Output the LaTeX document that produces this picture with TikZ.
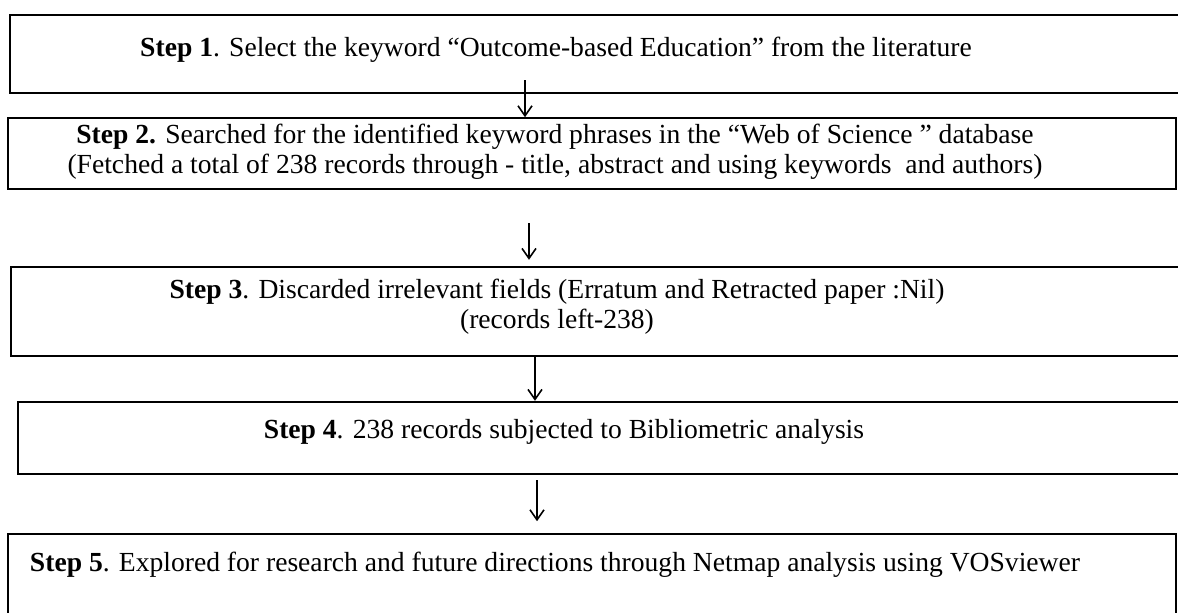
\documentclass[tikz,border=0pt]{standalone}
\usepackage{fontspec}
\setmainfont{Liberation Serif}
\usepackage{tikz}
\usetikzlibrary{arrows.meta,fit}

\tikzset{
  stepbox/.style={draw, line width=1.2pt, inner sep=0pt},
  thinbox/.style={stepbox, line width=0.8pt},
  steptext/.style={align=center, inner sep=0pt, font=\fontsize{13.8}{14.8}\selectfont},
}

\begin{document}
\begin{tikzpicture}[x=0.5pt, y=-0.5pt, >={Straight Barb[length=5pt,width=7pt]}]
\useasboundingbox (0,0) rectangle (1178,612);
\clip (0,0) rectangle (1178,612);

% Boxes
\node[stepbox, fit={(10,15) (1195,93)}] (box1) {};
\node[thinbox, fit={(8,118) (1176,189)}] (box2) {};
\node[stepbox, fit={(11,267) (1195,356)}] (box3) {};
\node[stepbox, fit={(18,402) (1195,474)}] (box4) {};
\node[thinbox, fit={(8,534) (1176,640)}] (box5) {};

% Texts
\node[steptext] (step1) at (556,50) {\textbf{Step 1}. Select the keyword “Outcome-based Education” from the literature};
\node[steptext] (step2) at (555,152) {\textbf{Step 2.} Searched for the identified keyword phrases in the “Web of Science ” database\\
  (Fetched a total of 238 records through - title, abstract and using keywords\ \ and authors)};
\node[steptext] (step3) at (557,307) {\textbf{Step 3}. Discarded irrelevant fields (Erratum and Retracted paper :Nil)\\
  (records left-238)};
\node[steptext] (step4) at (564,432) {\textbf{Step 4}. 238 records subjected to Bibliometric analysis};
\node[steptext] (step5) at (555,565) {\textbf{Step 5}. Explored for research and future directions through Netmap analysis using VOSviewer};

% Arrows
\coordinate (a1) at (525,80);
\coordinate (a2) at (529,223);
\coordinate (a3) at (535,0);
\coordinate (a4) at (537,480);
\draw[->, line width=0.8pt] (a1) -- (a1 |- box2.north);
\draw[->, line width=0.8pt, shorten >=3pt] (a2) -- (a2 |- box3.north);
\draw[->, line width=0.8pt] (box3.south -| a3) -- (box4.north -| a3);
\draw[->, line width=0.8pt, shorten >=6pt] (a4) -- (a4 |- box5.north);

\end{tikzpicture}
\end{document}
